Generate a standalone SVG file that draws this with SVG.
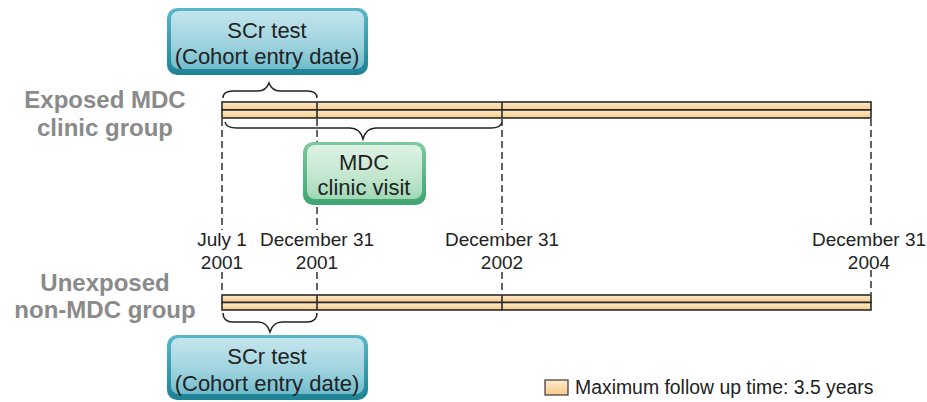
<svg xmlns="http://www.w3.org/2000/svg" width="927" height="402" viewBox="0 0 927 402">
<defs>
<linearGradient id="barG" x1="0" y1="0" x2="0" y2="1">
<stop offset="0" stop-color="#feeccd"/>
<stop offset="1" stop-color="#f6c987"/>
</linearGradient>
<linearGradient id="tealO" x1="0" y1="0" x2="0" y2="1">
<stop offset="0" stop-color="#5ab7ca"/>
<stop offset="1" stop-color="#1d8294"/>
</linearGradient>
<linearGradient id="tealI" x1="0" y1="0" x2="0" y2="1">
<stop offset="0" stop-color="#c4e5ec"/>
<stop offset="0.6" stop-color="#9dd2de"/>
<stop offset="1" stop-color="#6fbccc"/>
</linearGradient>
<linearGradient id="greenO" x1="0" y1="0" x2="0" y2="1">
<stop offset="0" stop-color="#7ccb9f"/>
<stop offset="1" stop-color="#3fa470"/>
</linearGradient>
<linearGradient id="greenI" x1="0" y1="0" x2="0" y2="1">
<stop offset="0" stop-color="#def2e5"/>
<stop offset="0.6" stop-color="#c2e6ce"/>
<stop offset="1" stop-color="#9fd8b5"/>
</linearGradient>
</defs>
<style>
.box{font-family:"Liberation Sans",Arial,sans-serif;font-size:22px;fill:#222;text-anchor:middle}
.grp{font-family:"Liberation Sans",Arial,sans-serif;font-size:24px;font-weight:bold;fill:#8a8a8a;text-anchor:middle}
.date{font-family:"Liberation Sans",Arial,sans-serif;font-size:19px;fill:#222;text-anchor:middle}
.leg{font-family:"Liberation Sans",Arial,sans-serif;font-size:19.4px;fill:#222}
.dash{stroke:#222;stroke-width:1.4;stroke-dasharray:7 4;fill:none}
.brace{stroke:#222;stroke-width:1.5;fill:none}
.bar{fill:url(#barG);stroke:#2a2a2a;stroke-width:1.6}
.div{stroke:#2a2a2a;stroke-width:1.6}
</style>

<g id="connectors">
<line class="dash" x1="222" y1="119" x2="222" y2="230"/>
<line class="dash" x1="222" y1="272" x2="222" y2="294"/>
<line class="dash" x1="317" y1="119" x2="317" y2="230"/>
<line class="dash" x1="317" y1="272" x2="317" y2="294"/>
<line class="dash" x1="502" y1="119" x2="502" y2="230"/>
<line class="dash" x1="502" y1="272" x2="502" y2="294"/>
<line class="dash" x1="871" y1="119" x2="871" y2="228"/>
<line class="dash" x1="871" y1="270" x2="871" y2="294"/>
<path class="brace" d="M223 98 Q223 91 233 91 L258 91 Q266 91 269 83 Q272 91 280 91 L307 91 Q317 91 317 98"/>
<path class="brace" d="M225 122 Q226 128 237 128 L350 128 Q360 128 363 139 Q366 128 376 128 L491 128 Q501 128 502 122"/>
<path class="brace" d="M223 313 Q223 322 233 322 L258 322 Q267 322 270 332 Q273 322 282 322 L307 322 Q317 322 317 313"/>
</g>

<g id="exposed-bar">
<rect class="bar" x="222" y="102" width="649" height="8"/>
<rect class="bar" x="222" y="110" width="649" height="8"/>
<line class="div" x1="317" y1="102" x2="317" y2="118"/>
<line class="div" x1="502" y1="102" x2="502" y2="118"/>
</g>

<g id="unexposed-bar">
<rect class="bar" x="222" y="295" width="649" height="7.5"/>
<rect class="bar" x="222" y="302.5" width="649" height="7.5"/>
<line class="div" x1="317" y1="295" x2="317" y2="310"/>
<line class="div" x1="502" y1="295" x2="502" y2="310"/>
</g>

<g id="scr-top">
<rect x="167" y="8" width="201" height="67" rx="10" fill="url(#tealO)"/>
<rect x="171" y="11" width="193" height="58" rx="8" fill="url(#tealI)"/>
<text class="box" x="267" y="38">SCr test</text>
<text class="box" x="267" y="64">(Cohort entry date)</text>
</g>

<g id="mdc-visit">
<rect x="303" y="142" width="123" height="63" rx="10" fill="url(#greenO)"/>
<rect x="307" y="145" width="115" height="54" rx="8" fill="url(#greenI)"/>
<text class="box" x="364" y="170">MDC</text>
<text class="box" x="364" y="195">clinic visit</text>
</g>

<g id="scr-bottom">
<rect x="167" y="335" width="201" height="65" rx="10" fill="url(#tealO)"/>
<rect x="171" y="338" width="193" height="56" rx="8" fill="url(#tealI)"/>
<text class="box" x="267" y="364">SCr test</text>
<text class="box" x="267" y="391">(Cohort entry date)</text>
</g>

<g id="label-exposed">
<text class="grp" x="105" y="108">Exposed MDC</text>
<text class="grp" x="105" y="136">clinic group</text>
</g>

<g id="label-unexposed">
<text class="grp" x="105" y="291">Unexposed</text>
<text class="grp" x="105" y="318">non-MDC group</text>
</g>

<g id="dates">
<text class="date" x="222" y="246">July 1</text>
<text class="date" x="222" y="269">2001</text>
<text class="date" x="317" y="246">December 31</text>
<text class="date" x="317" y="269">2001</text>
<text class="date" x="502" y="246">December 31</text>
<text class="date" x="502" y="269">2002</text>
<text class="date" x="869" y="246">December 31</text>
<text class="date" x="869" y="269">2004</text>
</g>

<g id="legend">
<rect x="545" y="380" width="23" height="15" fill="url(#barG)" stroke="#444" stroke-width="1.3"/>
<text class="leg" x="575" y="394">Maximum follow up time: 3.5 years</text>
</g>
</svg>
